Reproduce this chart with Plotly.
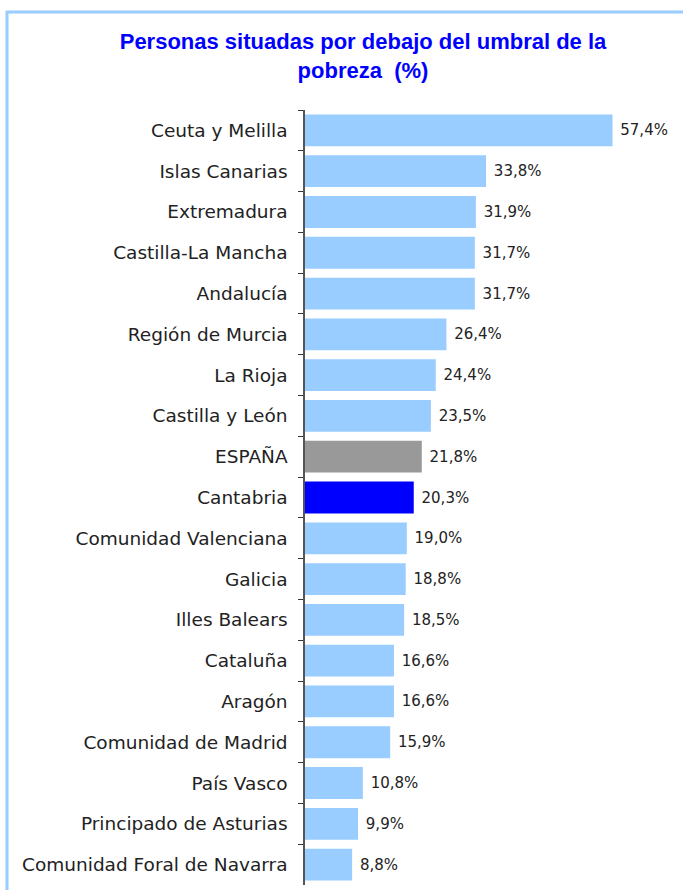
import plotly.graph_objects as go

regions = ["Ceuta y Melilla", "Islas Canarias", "Extremadura", "Castilla-La Mancha",
           "Andalucía", "Región de Murcia", "La Rioja", "Castilla y León", "ESPAÑA",
           "Cantabria", "Comunidad Valenciana", "Galicia", "Illes Balears", "Cataluña",
           "Aragón", "Comunidad de Madrid", "País Vasco", "Principado de Asturias",
           "Comunidad Foral de Navarra"]
values = [57.4, 33.8, 31.9, 31.7, 31.7, 26.4, 24.4, 23.5, 21.8, 20.3, 19.0, 18.8,
          18.5, 16.6, 16.6, 15.9, 10.8, 9.9, 8.8]

colors = []
for r in regions:
    if r == "ESPAÑA":
        colors.append("#999999")
    elif r == "Cantabria":
        colors.append("#0000FF")
    else:
        colors.append("#99CCFF")

labels = [" " + f"{v:.1f}".replace(".", ",") + "%" for v in values]

W, H = 683, 890
L, R, T, B = 305, 3, 110, 5
pw, ph = W - L - R, H - T - B

def px_x(p):
    return (p - L) / pw

def px_y(p):
    return (H - B - p) / ph

font = "DejaVu Sans"

fig = go.Figure(go.Bar(
    x=values, y=regions, orientation="h",
    marker=dict(color=colors, line=dict(width=0)),
    text=labels, textposition="outside", cliponaxis=False,
    textfont=dict(family=font, size=15, color="#222222"),
    width=0.78, hoverinfo="skip",
))

fig.update_layout(
    width=W, height=H,
    margin=dict(l=L, r=R, t=T, b=B),
    plot_bgcolor="white", paper_bgcolor="white",
    showlegend=False,
    title=dict(
        text="<b>Personas situadas por debajo del umbral de la<br>pobreza  (%)</b>",
        x=363 / W, xref="container", xanchor="center",
        y=1 - 49 / H, yref="container", yanchor="top",
        font=dict(family="Liberation Sans", size=22, color="#0000FF"),
    ),
    xaxis=dict(range=[0, 70], visible=False, fixedrange=True),
    yaxis=dict(
        autorange="reversed", showline=True, linecolor="#555555", linewidth=1.5,
        ticks="outside", ticklen=5, tickcolor="#333333", tickson="boundaries",
        tickfont=dict(family=font, size=18.5, color="#222222"),
        ticklabelstandoff=12, showgrid=False, fixedrange=True,
    ),
    shapes=[
        dict(type="line", xref="paper", yref="paper",
             x0=px_x(6), x1=px_x(700), y0=px_y(12), y1=px_y(12),
             line=dict(color="#99CCFF", width=3)),
        dict(type="line", xref="paper", yref="paper",
             x0=px_x(7), x1=px_x(7), y0=px_y(11), y1=px_y(900),
             line=dict(color="#99CCFF", width=3)),
    ],
)

fig.write_html("out.html", config={"displayModeBar": False},
               post_script="document.body.style.margin='0';document.body.style.overflow='hidden';")
